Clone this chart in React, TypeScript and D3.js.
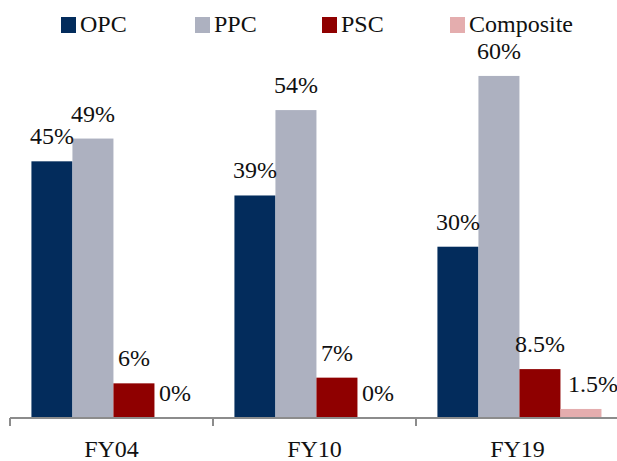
import React from "react";
import * as d3 from "d3";

// Cement mix share by year (%)
const categories = ["FY04", "FY10", "FY19"];
const seriesNames = ["OPC", "PPC", "PSC", "Composite"];
const opcValues = [45, 39, 30];
const ppcValues = [49, 54, 60];
const pscValues = [6, 7, 8.5];
const compositeValues = [0, 0, 1.5];
const valueLabels = [
  ["45%", "39%", "30%"],
  ["49%", "54%", "60%"],
  ["6%", "7%", "8.5%"],
  ["0%", "0%", "1.5%"],
];

const seriesValues = [opcValues, ppcValues, pscValues, compositeValues];
const colors = ["#032c5c", "#adb1c0", "#8f0000", "#e4adae"];

const W = 617;
const H = 461;
const FONT = "Liberation Serif, DejaVu Serif, serif";
const textStyle = { fontFamily: FONT, fontSize: "24px" };
const legendX = [61, 195, 322, 450];

export default function App() {
  const x0 = d3.scaleBand<string>().domain(categories).range([10, 619]).padding(0);
  const x1 = d3
    .scaleBand<string>()
    .domain(seriesNames)
    .range([0, x0.bandwidth()])
    .paddingInner(0)
    .paddingOuter(0.475)
    .align(0.55);
  const y = d3.scaleLinear().domain([0, 70]).range([417.5, 19]);
  const baseY = y(0);

  return (
    <svg
      width={W}
      height={H}
      style={{ position: "absolute", left: 0, top: 0, background: "#fff" }}
    >
      {/* legend */}
      {seriesNames.map((s, i) => (
        <g key={s} transform={`translate(${legendX[i]},0)`}>
          <rect x={0} y={17} width={15} height={16} fill={colors[i]} />
          <text x={19} y={32} style={textStyle} fill="#111">
            {s}
          </text>
        </g>
      ))}

      {/* bars */}
      {categories.map((c, ci) => (
        <g key={c} transform={`translate(${x0(c)},0)`}>
          {seriesNames.map((s, si) => {
            const v = seriesValues[si][ci];
            const bx = x1(s)!;
            const bw = x1.bandwidth();
            return (
              <rect
                key={s}
                x={bx}
                y={y(v)}
                width={bw}
                height={baseY - y(v)}
                fill={colors[si]}
              />
            );
          })}
          {seriesNames.map((s, si) => {
            const v = seriesValues[si][ci];
            const cx = x1(s)! + x1.bandwidth() / 2;
            // the label over a thin non-zero bar sits slightly to its right
            const nudge = v > 0 && v < 3 ? 12 : 0;
            return (
              <text
                key={s}
                x={cx + nudge}
                y={y(v) - 17}
                textAnchor="middle"
                style={textStyle}
                fill="#111"
              >
                {valueLabels[si][ci]}
              </text>
            );
          })}
        </g>
      ))}

      {/* category axis */}
      <line x1={10} x2={W} y1={418} y2={418} stroke="#8c8c8c" strokeWidth={2} />
      {[...categories.map((c) => x0(c)!), 619].map((tx, i) => (
        <line key={i} x1={tx} x2={tx} y1={418} y2={426} stroke="#8c8c8c" strokeWidth={2} />
      ))}
      {categories.map((c) => (
        <text
          key={c}
          x={x0(c)! + x0.bandwidth() / 2}
          y={457}
          textAnchor="middle"
          style={textStyle}
          fill="#111"
        >
          {c}
        </text>
      ))}
    </svg>
  );
}
